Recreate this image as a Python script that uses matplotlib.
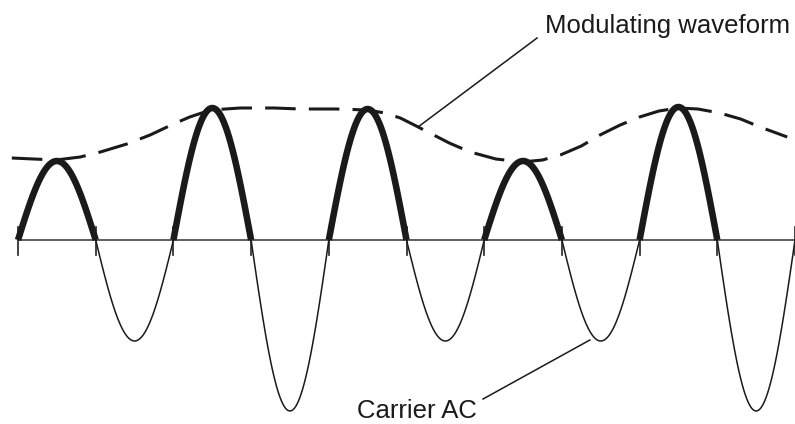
import numpy as np
import matplotlib
matplotlib.use("Agg")
import matplotlib.pyplot as plt

# peak value of each half-cycle of the carrier (positive = thick part)
half_cycle_peaks = [0.79, -1.01, 1.32, -1.71, 1.31, -1.01, 0.79, -1.01, 1.33, -1.71]

# modulating envelope (x in half-cycles)
mod_x = [-0.08, 0.2, 0.49, 0.8, 1.06, 1.4, 1.7, 2.0, 2.21, 2.48, 2.86, 3.3, 3.63, 4.1, 4.5,
         4.72, 4.92, 5.1, 5.3, 5.55, 5.82, 6.15, 6.49, 6.75, 6.98, 7.25, 7.49, 7.75, 8.0,
         8.25, 8.49, 8.75, 9.03, 9.3, 9.55, 9.9]
mod_y = [0.82, 0.81, 0.80, 0.83, 0.88, 0.96, 1.05, 1.16, 1.23, 1.30, 1.32, 1.32, 1.31, 1.31, 1.30,
         1.27, 1.22, 1.15, 1.07, 0.97, 0.88, 0.81, 0.78, 0.80, 0.85, 0.94, 1.05, 1.15, 1.23,
         1.29, 1.32, 1.31, 1.27, 1.21, 1.13, 1.03]

# labels and their leader lines (start at label, end at curve)
labels = ["Modulating waveform", "Carrier AC"]
label_pos = [(6.78, 2.07), (4.365, -1.775)]
leader_x = [[6.68, 5.148], [5.985, 7.36]]
leader_y = [[2.02, 1.13], [-1.59, -1.00]]

ink = "#1a1a1a"

fig = plt.figure(figsize=(7.95, 4.24), dpi=100)
ax = fig.add_axes([0, 0, 1, 1])
ax.set_xlim(-0.232, 10.0)
ax.set_ylim(-1.84, 2.40)
ax.axis("off")

# horizontal axis and tick marks at the zero crossings
ax.plot([0, 10], [0, 0], color="#333333", lw=1.1)
for k in range(len(half_cycle_peaks) + 1):
    ax.plot([k, k], [0.13, -0.15], color="#222222", lw=1.2)

# carrier, one half sine per half-cycle
for k, amp in enumerate(half_cycle_peaks):
    t = np.linspace(0, 1, 60)
    y = amp * np.sin(np.pi * t)
    if amp > 0:
        ax.plot(k + t, y, color=ink, lw=4.7, solid_capstyle="butt", zorder=3)
    else:
        ax.plot(k + t, y, color=ink, lw=1.1, zorder=2)

# modulating waveform
ax.plot(mod_x, mod_y, color=ink, lw=2.2, linestyle=(0, (10, 4.3)), zorder=4)

for text, (tx, ty), lx, ly in zip(labels, label_pos, leader_x, leader_y):
    ax.text(tx, ty, text, ha="left", va="baseline", family="Liberation Sans",
            size=18.5, color=ink)
    ax.plot(lx, ly, color=ink, lw=1.1, zorder=5)

fig.savefig("out.png", dpi=100)
